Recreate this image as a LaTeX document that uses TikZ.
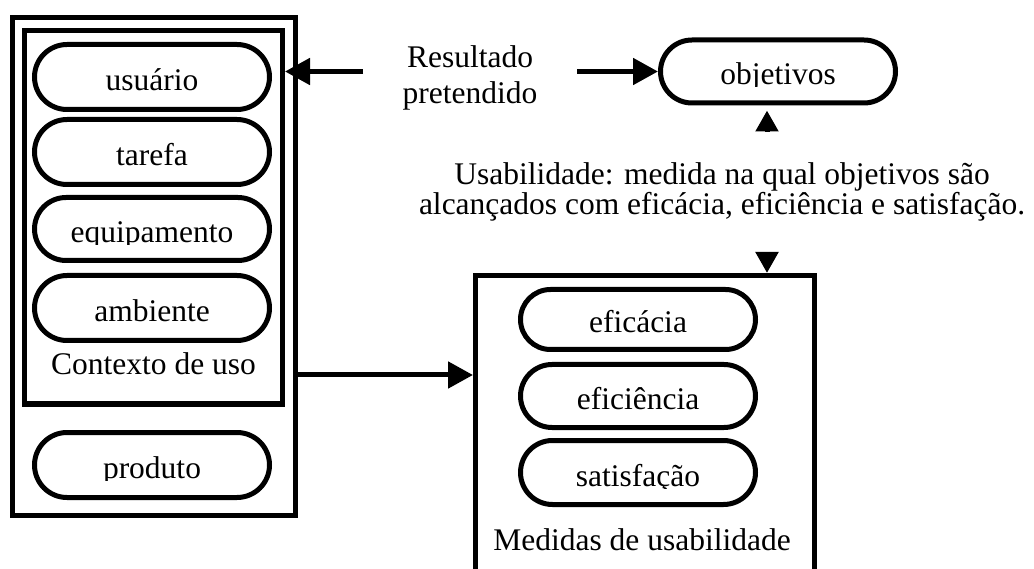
\documentclass[tikz,border=0pt]{standalone}
\usepackage{fontspec}
\setmainfont{Liberation Serif}
\usetikzlibrary{arrows.meta,shapes.misc}
\tikzset{
  boxshape/.style={draw, line width=5pt, rectangle, inner sep=0pt},
  pillshape/.style={draw, line width=5pt, rounded rectangle, inner sep=0pt},
  arrbig/.style={line width=5pt, -{Triangle[length=25pt,width=26pt]}},
  arrsmall/.style={line width=5pt, -{Triangle[length=21pt,width=22pt]}},
  lbl/.style={inner sep=0pt},
}
\newcommand\mypill[6]{%
  \node[pillshape, minimum width=#4pt, minimum height=#5pt] (#1) at (#2,#3) {};
  \begin{scope}
    \clip ({#2-#4/2},{#3-#5/2}) rectangle ({#2+#4/2},{#3+15.5});
    \node[lbl, anchor=base] (#1-t) at (#2,{#3+13.5}) {#6};
  \end{scope}
}
\begin{document}
\begin{tikzpicture}[x=1pt, y=-1pt, font=\fontsize{31.5}{36}\selectfont]
\useasboundingbox (0,0) rectangle (1034,569);
% left boxes
\node[boxshape, minimum width=283pt, minimum height=497.5pt] (outer) at (153.5,266.25) {};
\node[boxshape, minimum width=258pt, minimum height=373.5pt] (inner) at (153.5,217.25) {};
\mypill{usu}{152}{77}{235}{65}{usuário}
\mypill{tar}{152}{152}{235}{65}{tarefa}
\mypill{equ}{152}{229}{235}{63}{equipamento}
\mypill{amb}{152}{308}{235}{65}{ambiente}
\node[lbl, anchor=base] (ctxlabel) at (153.5,375) {Contexto de uso};
\mypill{pro}{152}{465}{235}{65}{produto}
% objetivos
\mypill{obj}{778}{71.5}{235}{63}{objetivos}
% resultado pretendido
\node[lbl, align=center] (res) at (470,78) {Resultado\\pretendido};
\coordinate (resL) at (363,71.5);
\coordinate (resR) at (577,71.5);
\draw[arrbig] (resL) -- (resL -| inner.east);
\draw[arrbig] (resR) -- (obj.west);
% usability text
\node[lbl, align=center, font=\fontsize{31.5}{28.5}\selectfont] (usab) at (722,191.5)
  {Usabilidade: medida na qual objetivos são\\alcançados com eficácia, eficiência e satisfação.};
% medidas box
\node[boxshape, minimum width=339pt, minimum height=324.5pt] (med) at (645,437.75) {};
\mypill{efa}{638}{319.5}{235}{60}{eficácia}
\mypill{efi}{638}{396}{235}{63}{eficiência}
\mypill{sat}{638}{472.5}{235}{64}{satisfação}
\node[lbl, anchor=base] (medlabel) at (642,550) {Medidas de usabilidade};
% arrows
\coordinate (uA) at (767,132);
\draw[arrsmall, shorten >=5pt] (uA) -- (uA |- obj.south);
\coordinate (dA) at (767,252);
\draw[arrsmall] (dA) -- (dA |- med.north);
\draw[arrbig] (outer.east |- 0,375) -- (med.west |- 0,375);
\end{tikzpicture}
\end{document}
